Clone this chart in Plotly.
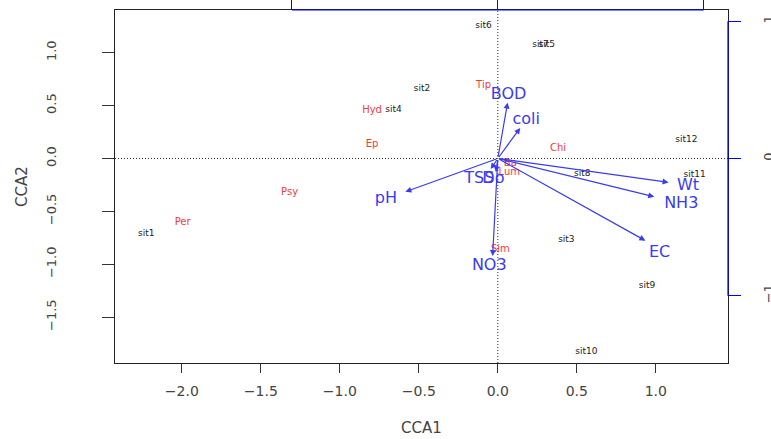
import plotly.graph_objects as go

# ---- data ----
site_names = ["sit1", "sit2", "sit3", "sit4", "sit5", "sit6", "sit7", "sit8", "sit9", "sit10", "sit11", "sit12"]
site_x = [-2.225, -0.48, 0.434, -0.66, 0.31, -0.09, 0.27, 0.535, 0.944, 0.56, 1.246, 1.193]
site_y = [-0.708, 0.655, -0.772, 0.462, 1.075, 1.251, 1.075, -0.149, -1.202, -1.826, -0.158, 0.181]

species_names = ["Per", "Psy", "Hyd", "Ep", "Tip", "Chi", "Ba", "Lum", "Sim"]
species_x = [-1.995, -1.318, -0.796, -0.796, -0.09, 0.381, 0.079, 0.073, 0.016]
species_y = [-0.604, -0.325, 0.456, 0.132, 0.692, 0.094, -0.049, -0.130, -0.858]

env_names = ["BOD", "coli", "TSS", "Do", "NO3", "pH", "Wt", "NH3", "EC"]
env_x = [0.062, 0.142, -0.045, -0.012, -0.033, -0.585, 1.081, 0.990, 0.934]
env_y = [0.528, 0.289, -0.100, -0.130, -0.922, -0.315, -0.226, -0.362, -0.777]
env_label_x = [0.068, 0.180, -0.117, -0.028, -0.054, -0.708, 1.204, 1.161, 1.024]
env_label_y = [0.597, 0.361, -0.195, -0.195, -1.016, -0.384, -0.261, -0.434, -0.890]

x_ticks = [-2.0, -1.5, -1.0, -0.5, 0.0, 0.5, 1.0]
y_ticks = [-1.5, -1.0, -0.5, 0.0, 0.5, 1.0]
biplot_ticks = [-1, 0, 1]

x_range = [-2.423, 1.457]
y_range = [-1.934, 1.404]
x2_scale = 158 / 206
y2_scale = 106 / 137.5

BLUE = "#3a3af2"
RED = "#f23a3a"
FONT = "DejaVu Sans"

fig = go.Figure()

fig.add_trace(go.Scatter(
    x=site_x, y=site_y, text=site_names, mode="text",
    textfont=dict(family=FONT, size=9, color="#222222"),
    hoverinfo="skip", showlegend=False))

fig.add_trace(go.Scatter(
    x=species_x, y=species_y, text=species_names, mode="text",
    textfont=dict(family=FONT, size=10, color=RED),
    hoverinfo="skip", showlegend=False))

fig.add_trace(go.Scatter(
    x=env_label_x, y=env_label_y, text=env_names, mode="text",
    textfont=dict(family=FONT, size=16, color=BLUE),
    hoverinfo="skip", showlegend=False))

# invisible trace to activate secondary axes
fig.add_trace(go.Scatter(x=[0], y=[0], xaxis="x2", yaxis="y2", mode="markers",
                         marker=dict(opacity=0), hoverinfo="skip", showlegend=False))

# arrows
for ex, ey in zip(env_x, env_y):
    fig.add_annotation(x=ex, y=ey, ax=0, ay=0, xref="x", yref="y", axref="x", ayref="y",
                       text="", showarrow=True, arrowhead=2, arrowsize=1.0,
                       arrowwidth=1.2, arrowcolor=BLUE)

# dotted zero lines
fig.add_shape(type="line", xref="x", yref="paper", x0=0, x1=0, y0=0, y1=1,
              line=dict(color="#333333", width=1, dash="1px,2px"))
fig.add_shape(type="line", xref="paper", yref="y", x0=0, x1=1, y0=0, y1=0,
              line=dict(color="#333333", width=1, dash="1px,2px"))

# blue biplot axis lines (top and right)
fig.add_shape(type="line", xref="x2", yref="paper", x0=min(biplot_ticks), x1=max(biplot_ticks),
              y0=1, y1=1, line=dict(color="blue", width=1.2))
fig.add_shape(type="line", xref="paper", yref="y2", x0=1, x1=1,
              y0=min(biplot_ticks), y1=max(biplot_ticks), line=dict(color="blue", width=1.2))

fig.update_layout(
    width=771, height=439,
    margin=dict(l=115, r=43, t=10, b=76, autoexpand=False),
    plot_bgcolor="white", paper_bgcolor="white",
    font=dict(family=FONT, color="#444444"),
    xaxis=dict(range=x_range, tickvals=x_ticks, tickformat=".1f", automargin=False,
               ticks="outside", ticklen=9, tickcolor="#333333",
               showline=True, linecolor="#222222", linewidth=1, mirror=True,
               showgrid=False, zeroline=False,
               tickfont=dict(family=FONT, size=14, color="#444444"),
               ticklabelstandoff=6,
               title=dict(text="CCA1", font=dict(family=FONT, size=15, color="#444444"), standoff=24)),
    yaxis=dict(range=y_range, tickvals=y_ticks, tickformat=".1f", automargin=False,
               ticks="outside", ticklen=12, tickcolor="#333333",
               showline=True, linecolor="#222222", linewidth=1, mirror=True,
               showgrid=False, zeroline=False, tickangle=-90,
               tickfont=dict(family=FONT, size=13, color="#444444"),
               ticklabelstandoff=41,
               title=dict(text="CCA2", font=dict(family=FONT, size=15, color="#444444"), standoff=12)),
    xaxis2=dict(range=[x_range[0] * x2_scale, x_range[1] * x2_scale], overlaying="x", side="top",
                automargin=False,
                tickvals=biplot_ticks, ticks="outside", ticklen=10, tickcolor="blue", tickwidth=1.2,
                showticklabels=False, showline=False, showgrid=False, zeroline=False),
    yaxis2=dict(range=[y_range[0] * y2_scale, y_range[1] * y2_scale], overlaying="y", side="right",
                automargin=False,
                tickvals=biplot_ticks, ticks="outside", ticklen=12, tickcolor="blue", tickwidth=1.2,
                tickangle=-90, ticklabelstandoff=16,
                tickfont=dict(family=FONT, size=13, color="#444444"),
                showline=False, showgrid=False, zeroline=False),
)

fig.write_html("out.html", config={"displayModeBar": False},
               post_script="document.body.style.margin='0';")
